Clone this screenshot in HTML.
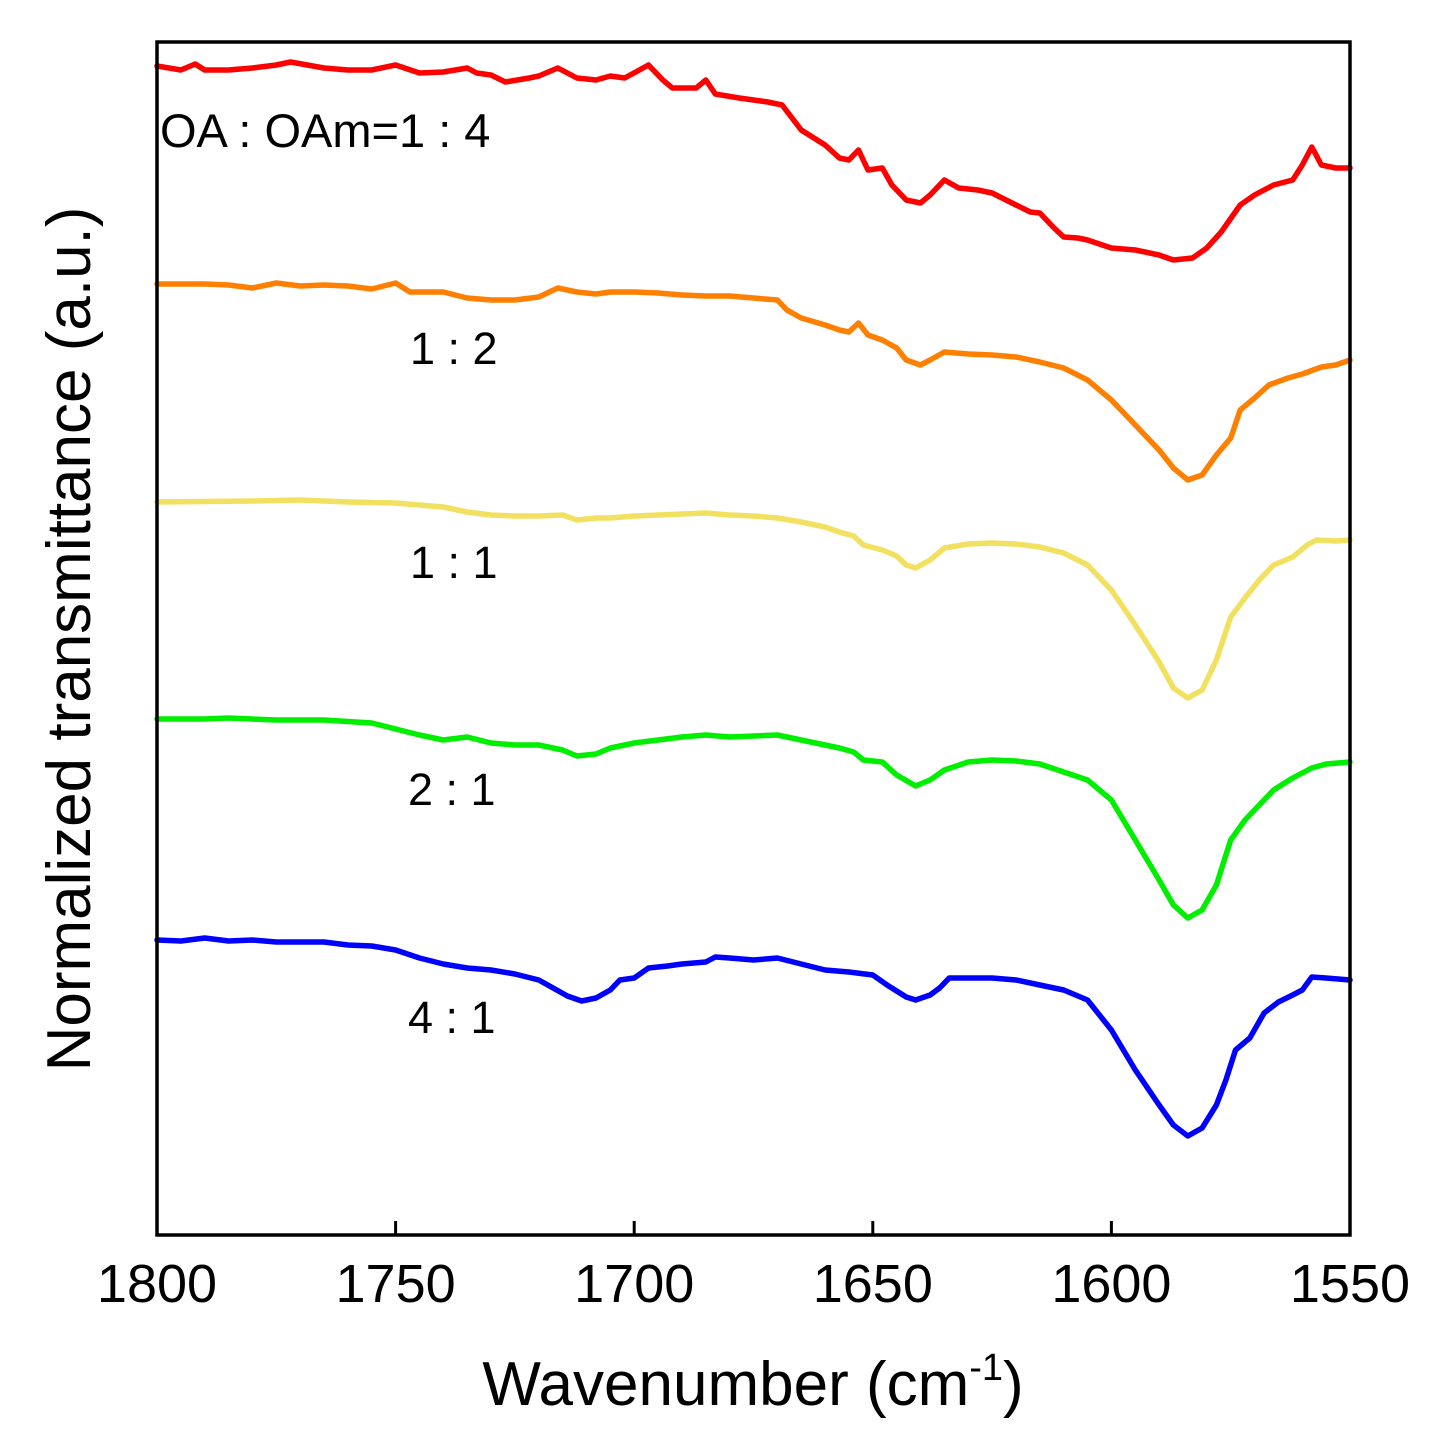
<!DOCTYPE html>
<html><head><meta charset="utf-8"><style>
html,body{margin:0;padding:0;background:#fff;}
svg{display:block;font-family:"Liberation Sans",Arial,sans-serif;}
</style></head><body>
<svg id="chart" width="1450" height="1455" viewBox="0 0 1450 1455" xmlns="http://www.w3.org/2000/svg">
<rect x="0" y="0" width="1450" height="1455" fill="#fff"/>
<g id="series"></g>
<rect x="157" y="42" width="1193" height="1193" fill="none" stroke="#000" stroke-width="3.5"/>
<g id="ticks"></g>
<text x="753" y="1405" font-size="62" text-anchor="middle">Wavenumber (cm<tspan font-size="38" dy="-25">-1</tspan><tspan dy="25">)</tspan></text>
<text transform="translate(90,639) rotate(-90)" font-size="62" text-anchor="middle">Normalized transmittance (a.u.)</text>
<text x="160" y="147" font-size="47">OA : OAm=1 : 4</text>
<text x="410" y="364" font-size="45">1 : 2</text>
<text x="410" y="578" font-size="45">1 : 1</text>
<text x="408" y="805" font-size="45">2 : 1</text>
<text x="408" y="1033" font-size="45">4 : 1</text>
</svg>
<script>
const xTicks = [1800,1750,1700,1650,1600,1550];
const redW = [1800,1795,1792,1790,1785,1780,1775,1772,1765,1760,1755,1750,1745,1740,1735,1733,1730,1727,1722,1720,1716,1712,1708,1705,1702,1697,1694,1692,1687,1685,1683,1678,1672,1669,1665,1660,1657,1655,1653,1651,1648,1646,1643,1640,1638,1635,1632,1628,1625,1620,1617,1615,1612,1610,1607,1605,1600,1595,1590,1587,1583,1580,1577,1573,1570,1566,1562,1560,1558,1556,1553,1550];
const redV = [1169,1165,1171,1165,1165,1167,1170,1173,1167,1165,1165,1170,1162,1163,1167,1162,1160,1153,1157,1159,1167,1157,1155,1159,1157,1170,1155,1147,1147,1155,1141,1137,1133,1130,1105,1090,1077,1075,1085,1065,1067,1050,1035,1032,1040,1055,1047,1045,1042,1030,1023,1022,1007,998,997,995,987,985,980,975,977,987,1003,1030,1040,1050,1055,1070,1088,1070,1067,1067];
const orangeW = [1800,1790,1785,1780,1775,1770,1765,1760,1755,1750,1747,1740,1735,1730,1725,1720,1716,1712,1708,1705,1700,1695,1690,1685,1680,1675,1670,1668,1665,1660,1657,1655,1653,1651,1648,1645,1643,1640,1638,1635,1630,1625,1620,1615,1610,1605,1600,1595,1590,1587,1584,1581,1578,1575,1573,1570,1567,1563,1560,1556,1553,1550];
const orangeV = [951,951,950,947,952,949,950,949,946,952,943,943,937,935,935,938,947,943,941,943,943,942,940,939,939,937,935,925,917,910,905,903,912,900,895,887,875,870,875,883,881,880,878,873,867,855,835,810,785,767,755,760,780,797,825,837,850,857,861,868,870,875];
const yellowW = [1800,1780,1770,1760,1750,1740,1735,1730,1725,1720,1715,1712,1708,1705,1700,1695,1690,1685,1680,1675,1670,1665,1660,1657,1654,1652,1648,1645,1643,1641,1638,1635,1630,1625,1620,1615,1610,1605,1600,1595,1590,1587,1584,1581,1578,1575,1572,1569,1566,1562,1559,1557,1553,1550];
const yellowV = [733,734,735,733,732,728,723,720,719,719,720,715,717,717,719,720,721,722,720,719,717,713,708,703,699,690,685,679,670,667,675,687,691,692,691,688,682,670,645,610,573,547,537,545,575,618,637,655,670,678,690,695,694,695];
const greenW = [1800,1790,1785,1775,1765,1755,1745,1740,1735,1730,1725,1720,1715,1712,1708,1705,1700,1695,1690,1685,1680,1675,1670,1665,1660,1657,1654,1652,1648,1645,1641,1638,1635,1630,1625,1620,1615,1610,1605,1600,1595,1590,1587,1584,1581,1578,1575,1572,1569,1566,1562,1558,1555,1550];
const greenV = [516,516,517,515,515,512,500,495,498,492,490,490,485,479,481,487,492,495,498,500,498,499,500,495,490,487,483,475,473,460,449,455,465,473,475,474,471,463,455,435,395,355,330,317,325,350,395,415,430,445,457,467,471,473];
const blueW = [1800,1795,1790,1785,1780,1775,1765,1760,1755,1750,1745,1740,1735,1730,1725,1720,1717,1714,1711,1708,1705,1703,1700,1697,1693,1690,1685,1683,1680,1675,1670,1665,1660,1655,1650,1647,1643,1641,1638,1636,1634,1630,1625,1620,1615,1610,1605,1600,1595,1590,1587,1584,1581,1578,1576,1574,1571,1568,1565,1562,1560,1558,1555,1550];
const blueV = [295,294,297,294,295,293,293,290,289,285,277,271,267,265,261,255,247,239,234,237,245,255,257,267,269,271,273,278,277,275,277,271,265,263,260,250,238,235,240,247,257,257,257,255,250,245,235,205,165,130,110,99,107,130,155,185,197,222,233,240,245,258,257,255];

const X0=157,X1=1350,Y0=1235,Y1=42;
function xs(w){return X0+(1800-w)/(1800-1550)*(X1-X0);}
function ys(v){return Y0-(v/1193)*(Y0-Y1);}
const NS="http://www.w3.org/2000/svg";
const sg=document.getElementById('series');
function addLine(ws,vs,color,name){
  const p=document.createElementNS(NS,'path');
  let d='';
  for(let i=0;i<ws.length;i++){d+=(i?'L':'M')+xs(ws[i]).toFixed(1)+','+ys(vs[i]).toFixed(1);}
  p.setAttribute('d',d);
  p.setAttribute('fill','none');
  p.setAttribute('stroke',color);
  p.setAttribute('stroke-width','5.5');
  p.setAttribute('stroke-linejoin','round');
  p.setAttribute('stroke-linecap','round');
  
  
  sg.appendChild(p);
}
addLine(redW,redV,'#ff0000','series-1-4');
addLine(orangeW,orangeV,'#ff8000','series-1-2');
addLine(yellowW,yellowV,'#f2e060','series-1-1');
addLine(greenW,greenV,'#00ee00','series-2-1');
addLine(blueW,blueV,'#0000ff','series-4-1');
const tg=document.getElementById('ticks');
xTicks.forEach(function(t){
  const x=xs(t);
  const l=document.createElementNS(NS,'line');
  l.setAttribute('x1',x);l.setAttribute('x2',x);
  l.setAttribute('y1',Y0);l.setAttribute('y2',Y0-14);
  l.setAttribute('stroke','#000');l.setAttribute('stroke-width','3');
  
  
  tg.appendChild(l);
  const tx=document.createElementNS(NS,'text');
  tx.setAttribute('x',x);tx.setAttribute('y',1302);
  tx.setAttribute('font-size','54');tx.setAttribute('text-anchor','middle');
  tx.textContent=t;
  
  
  tg.appendChild(tx);
});
</script>
</body></html>
